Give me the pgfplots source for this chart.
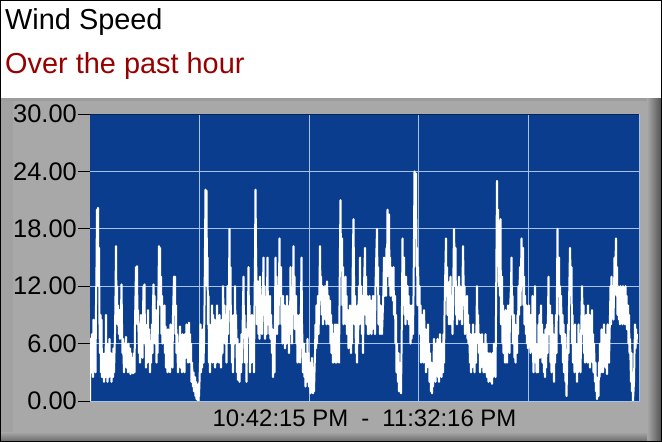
\documentclass[border=0pt]{standalone}
\usepackage{fontspec}
\setmainfont{Liberation Sans}
\usepackage{pgfplots}
\pgfplotsset{compat=1.18}
\definecolor{plotblue}{RGB}{11,61,143}
\definecolor{gridblue}{RGB}{165,195,235}
\definecolor{panel}{RGB}{168,168,168}
\definecolor{titlered}{RGB}{150,0,0}
\begin{document}
\begin{tikzpicture}
\useasboundingbox (0,0) rectangle (662bp,-442bp);
\begin{scope}[x=1bp,y=-1bp]
\fill[white] (0,0) rectangle (662,98);
\fill[panel] (0,98) rectangle (662,442);
\fill[panel!93!black] (0,98) rectangle (662,101);
\fill[panel!96!black] (0,101) rectangle (13,442);
\shade[left color=panel, right color=panel!50!black] (647,98) rectangle (661,442);
\shade[top color=panel, bottom color=panel!65!black] (0,432) rectangle (647,441);
\draw[black, line width=1bp] (0.5,0.5) rectangle (661.5,441.5);
\node[anchor=base west, inner sep=0pt, font=\fontsize{29}{32}\selectfont] at (5,29.5) {Wind Speed};
\node[anchor=base west, inner sep=0pt, font=\fontsize{29}{32}\selectfont, text=titlered] at (5,73) {Over the past hour};
\end{scope}
\begin{axis}[
  at={(90bp,-401bp)}, anchor=south west,
  width=549bp, height=287bp, scale only axis,
  xmin=90, xmax=639, ymin=0, ymax=30,
  axis background/.style={fill=plotblue},
  axis line style={draw=none},
  clip mode=individual,
  xtick={199.5,309,418.5,528}, xticklabels={},
  ytick={0,6,12,18,24,30}, ytick pos=left,
  tick align=outside, major tick length=12bp,
  xtick style={draw=none},
  ytick style={black, line width=0.8bp},
  grid=major, major grid style={gridblue, line width=0.8bp},
  yticklabel style={font=\fontsize{25.5}{28}\selectfont, inner xsep=1bp, text=black},
  /pgf/number format/.cd, fixed, fixed zerofill, precision=2, assume math mode=true, /pgfplots/.cd,
  xlabel={10:42:15 PM\hspace{0.55em}-\hspace{0.55em}11:32:16 PM},
  xlabel style={font=\fontsize{24}{28}\selectfont, at={(axis description cs:0.5,0)}, anchor=base, yshift=-25bp, inner sep=0pt},
]
\addplot[white, line width=2bp, line join=round] coordinates {
(90,0) (90.5,6.5) (91.5,3) (92,7) (93,2.5) (93.5,8.5) (94.5,4) (95,6) (95.5,3) (96,10) (96.5,14) (97,20) (97.5,17) (98,20.2) (98.5,12) (99,16) (99.5,8) (100,5) (100.5,9) (101,3) (101.5,8.5) (102,2.5) (102.5,5) (103,3) (103.5,4.5) (104,2) (105,5) (105.5,2.5) (106,9) (106.5,3) (107,6) (107.5,2) (108,4.5) (109,2.5) (109.5,6.5) (110,3) (111,5) (111.5,2) (112,4) (113,2.5) (113.5,5.5) (114,3) (115,7) (115.5,11) (116,16.2) (116.5,9) (117,12) (117.5,8) (118,10) (119,7) (119.5,9.5) (120,6.5) (121,9) (121.5,12.2) (122,8) (122.5,5) (123,6.5) (124,3) (124.5,6) (125,4) (126,6.7) (126.5,3.5) (127,5.5) (128,3) (128.5,6) (129,4) (130,5.5) (130.5,2.8) (131,5) (132,3) (132.5,4.5) (133,2.9) (134,5) (134.5,3) (135,8) (136,14) (136.5,10) (137,14.1) (137.5,8) (138,9.5) (139,5) (139.5,8) (140,4) (141,9) (141.5,5.5) (142,7) (142.5,4.5) (143,9) (143.5,12) (144,8) (144.5,12.2) (145,6) (145.5,8) (146,3.5) (147,7) (147.5,4) (148,9.5) (148.5,5) (149,7.5) (150,3) (150.5,6) (151,4) (152,8) (152.5,5) (153,10) (153.5,12.2) (154,8) (154.5,11) (155,6) (156,9.5) (156.5,4) (157,7) (157.5,5) (158,9) (158.5,12) (159,16.2) (159.5,13) (160,16) (160.5,10) (161,13) (161.5,7) (162,11) (162.5,6) (163,9) (164,6.5) (164.5,10) (165,5) (165.5,7.8) (166,3.5) (167,6) (167.5,3) (168,7.5) (168.5,4) (169,6) (170,3) (170.5,8) (171,4.5) (172,6) (172.5,3.5) (173,9) (174,13) (174.5,9) (175,13) (175.5,7) (176,10) (176.5,5) (177,7) (178,3) (178.5,6) (179,4) (180,7.8) (180.5,3.5) (181,5.5) (182,3) (182.5,7) (183,4.5) (184,6) (184.5,3) (185,7) (186,4.5) (186.5,8) (187,5) (187.5,7.5) (188,4) (189,8.2) (189.5,5.5) (190,7) (190.5,4) (191,6) (191.5,2) (192,4) (193,1.5) (193.5,3) (194,1) (195,2.5) (195.5,0.5) (196,2) (196.5,0.2) (197,1.5) (198,0) (198.5,1.8) (199,0.5) (199.5,2) (200,4) (200.5,8) (201,3) (201.5,6.5) (202,3.5) (203,7.5) (203.5,4) (204,6) (204.5,10) (205,16) (205.5,22.1) (206,18) (206.5,22) (207,12) (207.5,15) (208,8) (208.5,11) (209,4) (209.5,8) (210,3) (211,7.5) (211.5,5) (212,10) (212.5,4) (213,9) (214,5) (214.5,8.5) (215,3.5) (216,7) (216.5,4) (217,10) (217.5,5.5) (218,8) (219,4) (219.5,9) (220,5) (220.5,7) (221,3.5) (222,8.5) (222.5,5) (223,12) (224,7) (224.5,10) (225,6) (226,9) (226.5,4) (227,8) (227.5,12) (228,7) (229,12) (229.5,18) (230,10) (230.5,14) (231,6) (231.5,9) (232,4) (232.5,8) (233,3) (234,9) (234.5,6) (235,12) (235.5,7) (236,9) (237,3) (237.5,6.5) (238,2.2) (239,5) (239.5,2) (240,6) (241,3) (241.5,7) (242,4) (243,10) (243.5,13) (244,7) (244.5,9) (245,4) (246,7.5) (246.5,2) (247,6) (248,9) (248.5,14) (249,8) (249.5,10) (250,3) (251,8) (251.5,4) (252,9) (252.5,5) (253,7.5) (254,3) (254.5,10) (255,15) (255.5,22.1) (256,16) (256.5,12) (257,8) (258,12.5) (258.5,7) (259,11) (259.5,6.5) (260,13) (261,8) (261.5,11) (262,7) (263,12) (263.5,15) (264,9) (264.5,12) (265,6.5) (266,10) (266.5,7) (267,11) (267.5,15) (268,8) (269,10.5) (269.5,7) (270,11) (270.5,6.5) (271,9) (272,5) (272.5,7.5) (273,2.5) (274,6) (274.5,3) (275,9) (275.5,15) (276,10) (276.5,13) (277,7) (278,12) (278.5,8) (279,12) (279.5,17) (280,11) (281,14) (281.5,8) (282,10.5) (282.5,6) (283,11) (284,7) (284.5,10) (285,5.5) (286,9) (286.5,6) (287,11) (287.5,7) (288,9.5) (289,5) (289.5,10) (290,7) (290.5,14) (291,8) (291.5,11) (292,6) (293,12) (293.5,16.2) (294,10) (294.5,13) (295,7.5) (296,11) (296.5,6) (297,9) (297.5,4) (298,8) (299,5.5) (299.5,9) (300,4) (301,10) (301.5,15) (302,8) (302.5,6) (303,3) (304,6) (304.5,2.5) (305,5) (305.5,1.5) (306,4) (307,2) (307.5,6.5) (308,3) (308.5,5) (309,1.5) (310,4) (310.5,0.8) (311,3) (311.5,1.2) (312,4.5) (313,0.8) (313.5,3) (314,1) (315,5) (315.5,8) (316,5.5) (316.5,10) (317,6) (318,11) (318.5,7) (319,9) (319.5,12) (320,16.2) (320.5,11) (321,13) (322,9) (322.5,12) (323,8) (323.5,11.5) (324,9) (325,12) (325.5,8.5) (326,11) (326.5,8) (327,12.5) (328,9) (328.5,11) (329,8) (330,10.5) (330.5,6) (331,9) (331.5,5) (332,8) (333,4) (333.5,7) (334,4.5) (335,8) (335.5,4) (336,6.5) (336.5,4) (337,8) (338,5) (338.5,7.5) (339,4) (339.5,10) (340,16) (340.5,21) (341,14) (342,17) (342.5,10) (343,14) (343.5,8) (344,12) (345,9) (345.5,13) (346,8) (346.5,11) (347,7) (348,9.5) (348.5,5.5) (349,8) (349.5,6) (350,10) (351,5) (351.5,8.5) (352,6) (352.5,12) (353,16) (353.5,19) (354,13) (354.5,8) (355,11) (356,5) (356.5,9) (357,4) (357.5,10) (358,6) (359,12) (359.5,8) (360,15) (360.5,9) (361,12) (362,7) (362.5,11) (363,5) (363.5,9) (364,12) (365,16) (365.5,9) (366,13) (366.5,8) (367,11) (368,7) (368.5,10) (369,7) (369.5,11) (370,8) (371,10.5) (371.5,7) (372,9.5) (372.5,7.5) (373,11) (374,8) (374.5,10) (375,7) (375.5,12) (376,14) (377,18) (377.5,12) (378,14) (378.5,8) (379,11) (380,7) (380.5,10) (381,7.5) (381.5,9) (382,7) (383,10) (383.5,12) (384,15) (384.5,11) (385,14) (386,11) (386.5,16) (387,13) (387.5,20) (388,16) (389,19.5) (389.5,12) (390,15) (390.5,11) (391,14) (392,11) (392.5,13.5) (393,10.5) (393.5,14) (394,9) (395,11) (395.5,6) (396,9) (396.5,3) (397,6) (398,2) (398.5,5) (399,1) (399.5,4) (400,1.5) (401,0.8) (401.5,5) (402,10) (402.5,17) (403,12) (404,15) (404.5,9) (405,12) (405.5,8) (406,13) (407,9) (407.5,12) (408,8.5) (408.5,11) (409,8) (410,10) (410.5,6) (411,9) (411.5,6.5) (412,10) (413,7) (413.5,11) (414,17) (414.5,24) (415,19) (416,23.8) (416.5,14) (417,16) (417.5,10) (418,14) (419,10) (419.5,12) (420,7) (420.5,10) (421,4) (422,9) (422.5,5) (423,8) (423.5,4) (424,9.5) (425,5) (425.5,7.5) (426,3) (426.5,6) (427,3.5) (428,8) (428.5,4) (429,6) (429.5,2) (430,5) (431,1) (431.5,4) (432,0.8) (432.5,3) (433,1.5) (434,6.5) (434.5,3) (435,5) (435.5,2) (436,6) (437,3.5) (437.5,6.5) (438,2.5) (438.5,5) (439,2) (440,7) (440.5,3) (441,5.5) (441.5,2.5) (442,6) (443,3) (443.5,7) (444,4) (444.5,9) (445,12) (446,17) (446.5,11) (447,14) (447.5,9) (448,12) (449,8) (449.5,12.5) (450,9) (450.5,13) (451,8) (452,11) (452.5,7) (453,10) (453.5,14) (454,18) (455,12) (455.5,16) (456,9) (456.5,12) (457,8) (458,11.5) (458.5,9) (459,13) (459.5,8.5) (460,12) (461,9) (461.5,11) (462,8) (462.5,12) (463,16.2) (464,10) (464.5,12) (465,7) (465.5,10) (466,7.5) (467,11) (467.5,6.5) (468,9) (468.5,6) (469,8) (470,4) (470.5,7) (471,3) (471.5,6) (472,3.5) (473,8) (473.5,4) (474,6.5) (474.5,3) (475,7) (476,4) (476.5,8) (477,12) (477.5,7) (478,9) (479,5) (479.5,7) (480,3) (480.5,6) (481,3.5) (482,7) (482.5,4) (483,6) (483.5,3) (484,5.5) (485,3) (485.5,7) (486,4) (486.5,6) (487,2.5) (488,5) (488.5,2) (489,4.5) (489.5,2.2) (490,5) (491,2) (491.5,4) (492,1.8) (492.5,5) (493,2.5) (494,6) (494.5,3) (495,5.5) (495.5,2.5) (496,9) (496.5,16) (497,23) (497.5,17) (498,20) (499,12) (499.5,18) (500,11) (500.5,19) (501,8) (502,13) (502.5,6) (503,10) (503.5,5) (504,8) (505,4) (505.5,9.5) (506,5.5) (506.5,8) (507,4) (508,10) (508.5,6) (509,9) (509.5,5) (510,9.5) (511,12) (511.5,15) (512,9) (512.5,11) (513,6) (514,9) (514.5,4.5) (515,8) (515.5,4) (516,7) (517,5) (517.5,9) (518,7) (518.5,12) (519,9) (520,14) (520.5,10) (521,13) (521.5,17) (522,12) (523,16) (523.5,10) (524,13) (524.5,8) (525,11) (526,7) (526.5,10) (527,6) (527.5,9) (528,5.5) (529,10) (529.5,6) (530,8.5) (530.5,5) (531,9) (532,6) (532.5,11) (533,5) (533.5,3) (534,6) (535,12) (535.5,4) (536,6) (536.5,3) (537,5.5) (538,3) (538.5,8) (539,5) (539.5,9) (540,4.5) (541,10) (541.5,5) (542,8) (542.5,4) (543,7) (544,3) (544.5,6) (545,2.5) (545.5,7.5) (546,3.5) (547,8) (547.5,5) (548,9) (548.5,13) (549,7) (550,10) (550.5,4) (551,8) (551.5,3) (552,9) (553,5) (553.5,7) (554,2) (554.5,6) (555,4) (556,9) (556.5,5) (557,12) (557.5,18) (558,11) (559,15) (559.5,9) (560,12) (560.5,7) (561,11) (562,6) (562.5,9) (563,4) (563.5,8) (564,3) (565,7) (565.5,2) (566,5) (566.5,0.5) (567,3) (568,8) (568.5,5) (569,10) (569.5,13) (570,16) (571,11) (571.5,14) (572,6) (572.5,9) (573,4) (574,7) (574.5,3) (575,8) (575.5,4) (576,6) (577,2) (577.5,5.5) (578,3) (578.5,8) (579,4.5) (580,7) (580.5,3) (581,6) (581.5,9) (582,12) (583,7) (583.5,10) (584,5) (584.5,8) (585,4) (586,9) (586.5,5.5) (587,8) (587.5,4) (588,10) (589,6) (589.5,9) (590,3.5) (590.5,7) (591,5) (592,9.5) (592.5,4) (593,7) (593.5,3) (594,6) (595,2) (595.5,4) (596,1) (596.5,2.5) (597,0.2) (598,2) (598.5,0.5) (599,4) (599.5,2.5) (600,6) (601,3) (601.5,7.5) (602,4) (602.5,6) (603,3) (604,8) (604.5,4) (605,7) (605.5,3.5) (606,6) (607,2.8) (607.5,8) (608,5) (608.5,7) (609,4) (610,9) (610.5,12) (611,8) (611.5,13) (612,9) (613,12) (613.5,8.5) (614,11) (614.5,15) (615,12) (616,17) (616.5,11) (617,14) (617.5,9) (618,12) (619,8.5) (619.5,11.5) (620,8) (620.5,12) (621,9) (622,11.5) (622.5,8) (623,12) (623.5,9) (624,11) (625,8) (625.5,12) (626,9) (626.5,11) (627,7.5) (628,10) (628.5,6) (629,9) (629.5,5) (630,6.5) (631,2) (631.5,5) (632,1) (632.5,3) (633,0) (634,2) (634.5,5) (635,8) (635.5,5.5) (636,7.5) (636.5,6) (637,7)
};
\draw[gridblue, line width=1bp] (rel axis cs:0,0) -- (rel axis cs:1,0) -- (rel axis cs:1,1);
\draw[plotblue!60!black, line width=1bp] (rel axis cs:0,1) -- (rel axis cs:1,1);
\end{axis}
\end{tikzpicture}
\end{document}
